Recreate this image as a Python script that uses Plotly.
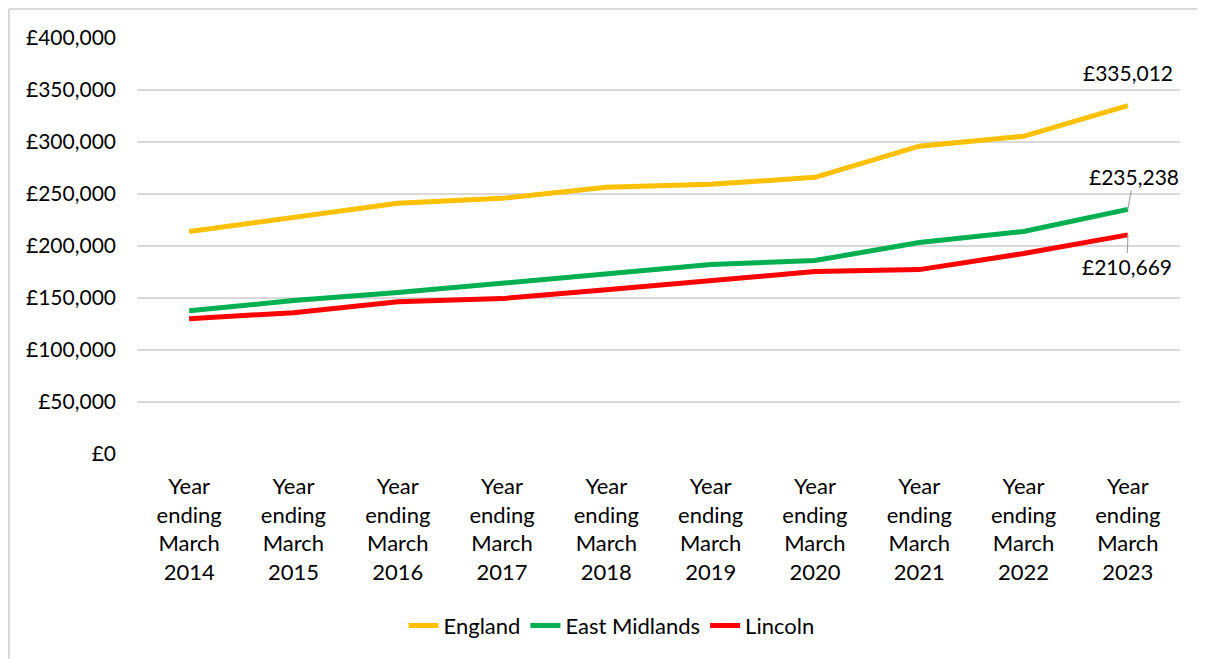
import plotly.graph_objects as go

categories = ["Year<br>ending<br>March<br>%d" % y for y in range(2014, 2024)]
england = [214000, 227500, 241000, 245800, 256400, 259300, 266000, 296000, 305500, 335012]
east_midlands = [137800, 147500, 155200, 163900, 173500, 182200, 186000, 203400, 214000, 235238]
lincoln = [130100, 135900, 146500, 149400, 158000, 166700, 175400, 177300, 192800, 210669]
y_ticks = [0, 50000, 100000, 150000, 200000, 250000, 300000, 350000, 400000]
y_tick_labels = ["£0", "£50,000", "£100,000", "£150,000", "£200,000", "£250,000", "£300,000", "£350,000", "£400,000"]

FONT = "Lato, 'Open Sans', sans-serif"

fig = go.Figure()
for name, vals, col in [("England", england, "#FFC000"),
                        ("East Midlands", east_midlands, "#00B050"),
                        ("Lincoln", lincoln, "#FF0000")]:
    fig.add_trace(go.Scatter(x=categories, y=vals, name=name, mode="lines",
                             line=dict(color=col, width=5)))

fig.add_annotation(x=categories[-1], y=england[-1], text="£335,012", showarrow=False,
                   yshift=33, font=dict(size=21, color="#000000", family=FONT))
fig.add_annotation(x=categories[-1], y=east_midlands[-1], text="£235,238", showarrow=True,
                   ax=6, ay=-33, arrowhead=0, arrowwidth=1.2, arrowcolor="#a6a6a6", standoff=0,
                   font=dict(size=21, color="#000000", family=FONT))
fig.add_annotation(x=categories[-1], y=lincoln[-1], text="£210,669", showarrow=True,
                   ax=-1, ay=32, arrowhead=0, arrowwidth=1.2, arrowcolor="#a6a6a6", standoff=0,
                   font=dict(size=21, color="#000000", family=FONT))

# chart-area border (top and left edges visible in the reference crop)
fig.add_shape(type="line", xref="paper", yref="paper", x0=-0.1227, x1=1.2, y0=1.0697, y1=1.0697,
              line=dict(color="#d9d9d9", width=2))
fig.add_shape(type="line", xref="paper", yref="paper", x0=-0.1227, x1=-0.1227, y0=1.0697, y1=-1.0,
              line=dict(color="#d9d9d9", width=2))

fig.update_layout(
    width=1197, height=651,
    margin=dict(l=129, r=25, t=30, b=205),
    paper_bgcolor="white", plot_bgcolor="white",
    font=dict(family=FONT, size=21, color="#000000"),
    showlegend=True,
    legend=dict(orientation="h", x=0.455, xanchor="center", y=-0.413, yanchor="middle",
                font=dict(size=22, family=FONT), tracegroupgap=0),
    xaxis=dict(range=[-0.5, 9.5], showgrid=False, showline=False, ticks="",
               tickfont=dict(size=22, family=FONT), ticklabelstandoff=17, fixedrange=True),
    yaxis=dict(range=[0, 400000], tickvals=y_ticks, ticktext=y_tick_labels,
               showgrid=True, gridcolor="#d9d9d9", gridwidth=1.5, zeroline=False,
               showline=False, ticks="", ticklabelstandoff=20,
               tickfont=dict(size=21, family=FONT)),
)

fig.write_html("out.html")
